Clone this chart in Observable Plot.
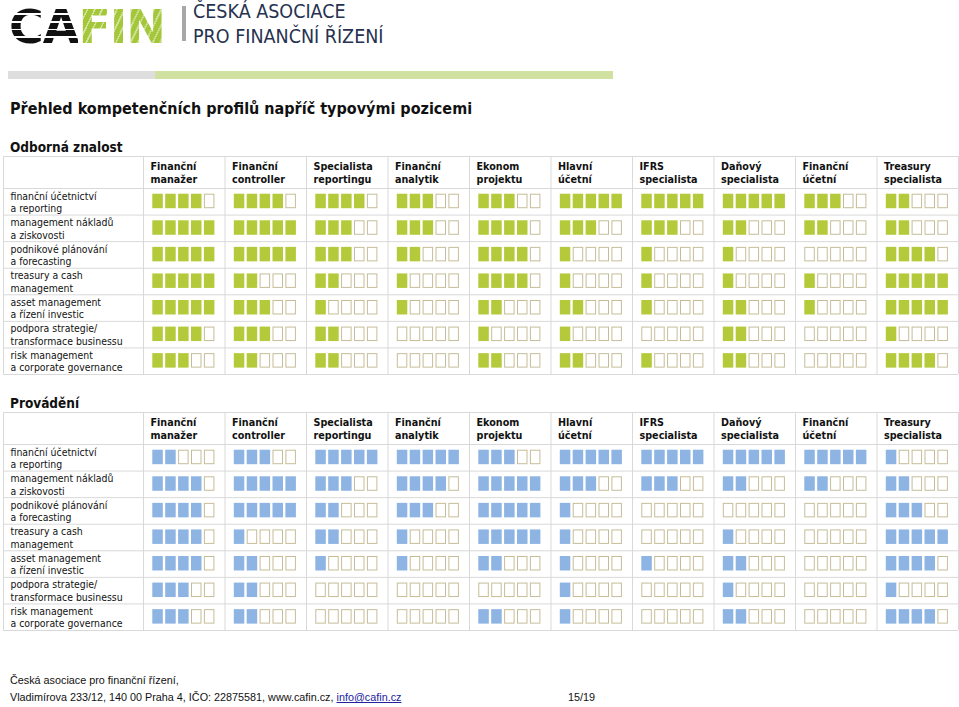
<!DOCTYPE html>
<html><head><meta charset="utf-8">
<script src="https://cdn.jsdelivr.net/npm/d3@7"></script>
<script src="https://cdn.jsdelivr.net/npm/@observablehq/plot@0.6"></script>
<style>
html,body{margin:0;padding:0;background:#fff;}
body{width:959px;height:707px;position:relative;overflow:hidden;font-family:"DejaVu Sans Condensed","DejaVu Sans",sans-serif;color:#111;}
.abs{position:absolute;white-space:nowrap;}
.logoword{font-family:"DejaVu Sans","DejaVu Sans Condensed",sans-serif;font-weight:bold;font-size:46px;line-height:normal;letter-spacing:-1px;transform-origin:0 0;transform:scaleX(1.03);}
.ca{color:transparent;background:repeating-linear-gradient(to bottom,#111 0px,#111 6px,#fff 6px,#fff 7.5px);-webkit-background-clip:text;background-clip:text;}
.fin{color:transparent;background:repeating-linear-gradient(115deg,#a4c639 0px,#a4c639 5px,#d3e4a0 5px,#d3e4a0 6.5px);-webkit-background-clip:text;background-clip:text;}
.assoc{font-family:"DejaVu Sans Condensed","DejaVu Sans",sans-serif;font-size:19.5px;color:#26324f;line-height:24.5px;}
.sec{font-weight:bold;font-size:13.5px;color:#111;}
.foot{font-family:"Liberation Sans",Arial,sans-serif;font-size:10.8px;color:#111;line-height:17px;}
.foot a{color:#2323a0;text-decoration:underline;}
</style></head><body>

<div class="abs logoword" style="left:9px;top:0px;"><span class="ca">CA</span><span class="fin">FIN</span></div>
<div class="abs" style="left:182px;top:6px;width:4px;height:35px;background:#a8a8a8;"></div>
<div class="abs assoc" style="left:193px;top:0px;">ČESKÁ ASOCIACE<br>PRO FINANČNÍ ŘÍZENÍ</div>
<div class="abs" style="left:8px;top:71px;width:147px;height:8px;background:#dedede;"></div>
<div class="abs" style="left:155px;top:71px;width:458px;height:8px;background:#d0e1a1;"></div>

<div class="abs" style="left:10px;top:99px;font-weight:bold;font-size:16px;">Přehled kompetenčních profilů napříč typovými pozicemi</div>

<div class="abs sec" style="left:10px;top:139px;">Odborná znalost</div>
<div id="t1" class="abs" style="left:0;top:155px;"></div>

<div class="abs sec" style="left:10px;top:395px;">Provádění</div>
<div id="t2" class="abs" style="left:0;top:411px;"></div>

<div class="abs foot" style="left:10px;top:672px;">Česká asociace pro finanční řízení,<br>Vladimírova 233/12, 140 00 Praha 4, IČO: 22875581, www.cafin.cz, <a>info@cafin.cz</a></div>
<div class="abs foot" style="left:568px;top:689px;">15/19</div>

<script>
// Column headers (positions)
const positions = [
  "Finanční\nmanažer", "Finanční\ncontroller", "Specialista\nreportingu", "Finanční\nanalytik",
  "Ekonom\nprojektu", "Hlavní\núčetní", "IFRS\nspecialista", "Daňový\nspecialista",
  "Finanční\núčetní", "Treasury\nspecialista"
];
// Row labels (competence areas)
const skills = [
  "finanční účetnictví\na reporting",
  "management nákladů\na ziskovosti",
  "podnikové plánování\na forecasting",
  "treasury a cash\nmanagement",
  "asset management\na řízení investic",
  "podpora strategie/\ntransformace businessu",
  "risk management\na corporate governance"
];
// Number of filled squares (0–5), one array per position, in row order
const knowledge = [
  [4,5,5,5,5,4,3],
  [4,5,5,2,3,3,2],
  [4,3,3,2,1,2,2],
  [3,3,2,1,1,0,0],
  [3,4,4,4,2,1,2],
  [5,3,1,1,2,1,2],
  [5,3,1,1,1,0,1],
  [5,2,1,1,2,2,2],
  [3,2,0,1,1,0,0],
  [2,2,4,5,5,1,4]
];
const execution = [
  [2,4,4,4,4,3,3],
  [3,5,5,1,2,2,2],
  [5,3,2,2,1,0,0],
  [5,4,3,1,1,0,0],
  [3,5,5,5,2,0,2],
  [5,3,1,1,1,1,1],
  [5,3,0,0,1,0,0],
  [5,2,0,1,2,1,2],
  [5,2,0,0,0,0,0],
  [1,2,3,5,4,1,4]
];
const maxLevel = 5;

function table(levels, color) {
  const colPx = 81.5;
  const hdr = 32 / 26.56;       // header height in row units
  const lab = 140 / colPx;      // label column width in column units
  const sx0 = 9.3 / colPx, sp = 12.9 / colPx, sw = 10.5 / colPx;
  const sy0 = 0.215, sy1 = 0.76;
  const cells = [];
  levels.forEach((col, j) => col.forEach((v, i) => {
    for (let k = 0; k < maxLevel; k++) cells.push({j, i, k, on: k < v});
  }));
  const X1 = d => d.j + sx0 + d.k * sp, X2 = d => d.j + sx0 + d.k * sp + sw;
  const Y1 = d => d.i + sy0, Y2 = d => d.i + sy1;
  return Plot.plot({
    width: 959, height: 220,
    marginLeft: 3, marginRight: 1, marginTop: 1, marginBottom: 1,
    x: {domain: [-lab, positions.length], axis: null},
    y: {domain: [-hdr, skills.length], reverse: true, axis: null},
    style: {fontFamily: '"DejaVu Sans Condensed","DejaVu Sans",sans-serif', fontSize: "10.5px", color: "#111", background: "white"},
    marks: [
      Plot.ruleY([-hdr, ...d3.range(skills.length + 1)], {y: d => d, stroke: "#d9d9d9"}),
      Plot.ruleX([-lab, ...d3.range(positions.length + 1)], {x: d => d, stroke: "#d9d9d9"}),
      Plot.rect(cells.filter(d => d.on), {x1: X1, x2: X2, y1: Y1, y2: Y2, fill: color}),
      Plot.rect(cells.filter(d => !d.on), {x1: X1, x2: X2, y1: Y1, y2: Y2, fill: "white", stroke: "#c6bd98", inset: 0.5}),
      Plot.text(positions, {x: (d, j) => j + 7 / colPx, y: () => -hdr / 2, text: d => d,
        textAnchor: "start", lineAnchor: "middle", fontWeight: "bold", fontSize: 10.7, lineHeight: 1.21, fill: "#111"}),
      Plot.text(skills, {x: () => -lab + 7 / colPx, y: (d, i) => i + 0.5, text: d => d,
        textAnchor: "start", lineAnchor: "middle", fontSize: 10.4, lineHeight: 1.2, fill: "#111"})
    ]
  });
}

document.getElementById("t1").appendChild(table(knowledge, "#b4ca3a"));
document.getElementById("t2").appendChild(table(execution, "#8db4e2"));
</script>
</body></html>
